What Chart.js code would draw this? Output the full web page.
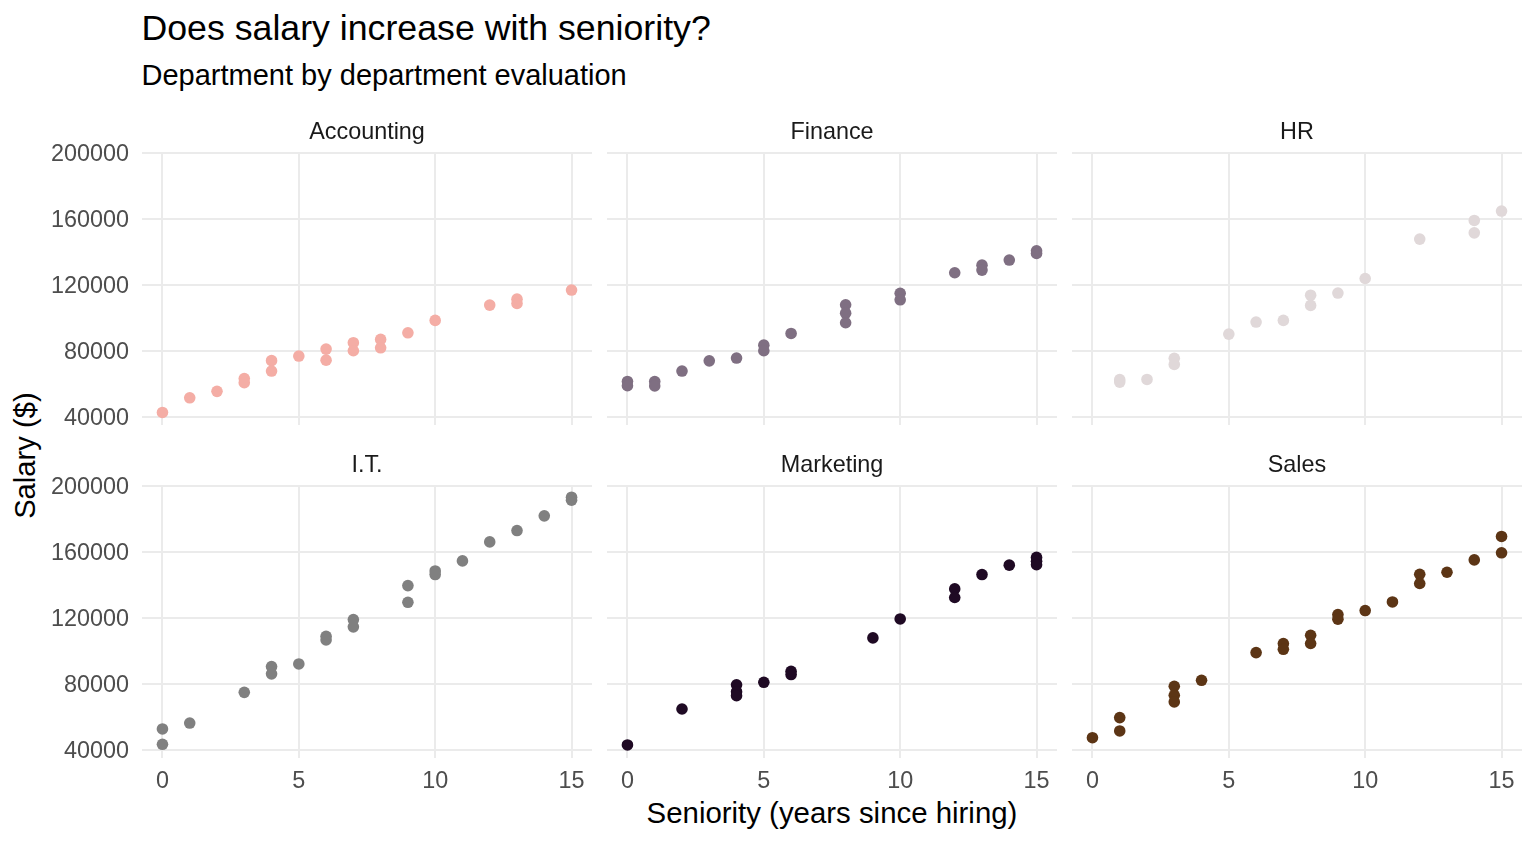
<!DOCTYPE html>
<html><head><meta charset="utf-8">
<script src="https://cdn.jsdelivr.net/npm/chart.js@4"></script>
<style>
body{margin:0;background:#fff;width:1536px;height:844px;overflow:hidden;position:relative;font-family:"Liberation Sans",Arial,sans-serif;}
.t{position:absolute;line-height:1;white-space:nowrap;color:#000;}
canvas{position:absolute;}
</style></head><body>
<div class="t" style="left:141.5px;top:10.5px;font-size:35.7px;">Does salary increase with seniority?</div>
<div class="t" style="left:141.5px;top:60.5px;font-size:29px;">Department by department evaluation</div>
<div class="t" style="left:142px;width:1380px;text-align:center;top:797.5px;font-size:29.4px;">Seniority (years since hiring)</div>
<div class="t" style="left:-124px;width:300px;text-align:center;top:440.5px;font-size:29.2px;transform:rotate(-90deg);transform-origin:50% 50%;">Salary ($)</div>
<script>
// ---- data ----
const departments = ["Accounting","Finance","HR","I.T.","Marketing","Sales"];
const xTickValues = [0,5,10,15];
const yTickValues = [40000,80000,120000,160000,200000];

const accountingYears  = [0,1,2,3,3,4,4,5,6,6,7,7,8,8,9,10,12,13,13,15];
const accountingSalary = [42600,51500,55400,63200,60600,74000,67700,76800,81000,74300,84900,80000,86900,81800,90900,98400,107700,111300,108700,116800];

const financeYears  = [0,0,1,1,2,3,4,5,5,6,8,8,8,10,10,12,13,13,14,15,15];
const financeSalary = [61400,58800,61300,58700,67700,73900,75600,83400,80000,90500,107900,102800,97000,114800,110900,127300,131900,128900,135000,140600,139000];

const hrYears  = [1,1,2,3,3,5,6,7,8,8,9,10,12,14,14,15];
const hrSalary = [62500,61000,62600,75400,71700,90100,97400,98400,113700,107500,115000,123800,147700,159000,151500,164700];

const itYears  = [0,0,1,3,4,4,5,6,6,7,7,9,9,10,10,11,12,13,14,15,15];
const itSalary = [52600,43300,56200,74800,90400,86000,92000,108800,106600,118900,114500,139500,129400,148400,146200,154500,166000,172900,181800,193100,191300];

const marketingYears  = [0,2,4,4,4,5,6,6,9,10,12,12,13,14,15,15,15];
const marketingSalary = [42900,64700,79400,75200,72800,80900,87600,85600,107800,119300,137500,132300,146200,151900,156600,154300,152200];

const salesYears  = [0,1,1,3,3,3,4,6,7,7,8,8,9,9,10,11,12,12,13,14,15,15];
const salesSalary = [47300,59500,51400,78500,73000,69000,82100,98900,104400,100900,109400,104400,122000,119100,124400,129600,146400,140800,147600,155100,169300,159400];

const deptYears  = [accountingYears, financeYears, hrYears, itYears, marketingYears, salesYears];
const deptSalary = [accountingSalary, financeSalary, hrSalary, itSalary, marketingSalary, salesSalary];

// ---- styles / layout ----
const deptColors = ["#F4ADA5","#7F6F82","#E0D8D9","#808080","#1F0A24","#5C3515"];
const FONT = '"Liberation Sans", Arial, sans-serif';
const PANEL_LEFT = [142, 607, 1072];
const PANEL_TOP = [152, 485];
const PW = 450, PH = 273, STRIP = 35, XAX = 50;

function noPad(s) { s.paddingTop = 0; s.paddingBottom = 0; s.paddingLeft = 0; s.paddingRight = 0; }

departments.forEach((dept, i) => {
  const col = i % 3, row = Math.floor(i / 3);
  const left = col === 0 ? 0 : PANEL_LEFT[col];
  const yW = PANEL_LEFT[col] - left;
  const w = yW + PW;
  const h = STRIP + PH + (row === 1 ? XAX : 0);
  const cv = document.createElement('canvas');
  cv.width = w; cv.height = h;
  cv.style.left = left + 'px';
  cv.style.top = (PANEL_TOP[row] - STRIP) + 'px';
  cv.style.width = w + 'px'; cv.style.height = h + 'px';
  document.body.appendChild(cv);
  const pts = deptYears[i].map((x, k) => ({x: x, y: deptSalary[i][k]}));
  new Chart(cv, {
    type: 'scatter',
    data: {datasets: [{data: pts, backgroundColor: deptColors[i], borderWidth: 0,
      pointRadius: 5.8, pointHoverRadius: 5.8}]},
    options: {
      responsive: false, animation: false,
      layout: {padding: 0, autoPadding: false},
      events: [],
      plugins: {
        legend: {display: false},
        tooltip: {enabled: false},
        title: {display: true, text: dept, fullSize: false, color: '#1a1a1a',
          font: {family: FONT, size: 23.4, weight: 'normal', lineHeight: '28px'},
          padding: {top: 1.5, bottom: 5.5}}
      },
      scales: {
        x: {
          type: 'linear', min: -0.75, max: 15.75,
          afterBuildTicks: s => { s.ticks = xTickValues.map(v => ({value: v})); },
          afterFit: s => { s.height = row === 1 ? XAX : 0; noPad(s); },
          grid: {color: '#EBEBEB', lineWidth: 2, drawTicks: false},
          border: {display: false},
          ticks: {display: row === 1, color: '#4D4D4D', padding: 10, maxRotation: 0, autoSkip: false,
            font: {family: FONT, size: 23.4}, callback: v => String(v)}
        },
        y: {
          type: 'linear', min: 35000, max: 200500,
          afterBuildTicks: s => { s.ticks = yTickValues.map(v => ({value: v})); },
          afterFit: s => { s.width = yW; noPad(s); },
          grid: {color: '#EBEBEB', lineWidth: 2, drawTicks: false},
          border: {display: false},
          ticks: {display: col === 0, color: '#4D4D4D', padding: 13, labelOffset: 1.5, autoSkip: false,
            font: {family: FONT, size: 23.4}, callback: v => String(v)}
        }
      }
    }
  });
});
</script>
</body></html>
